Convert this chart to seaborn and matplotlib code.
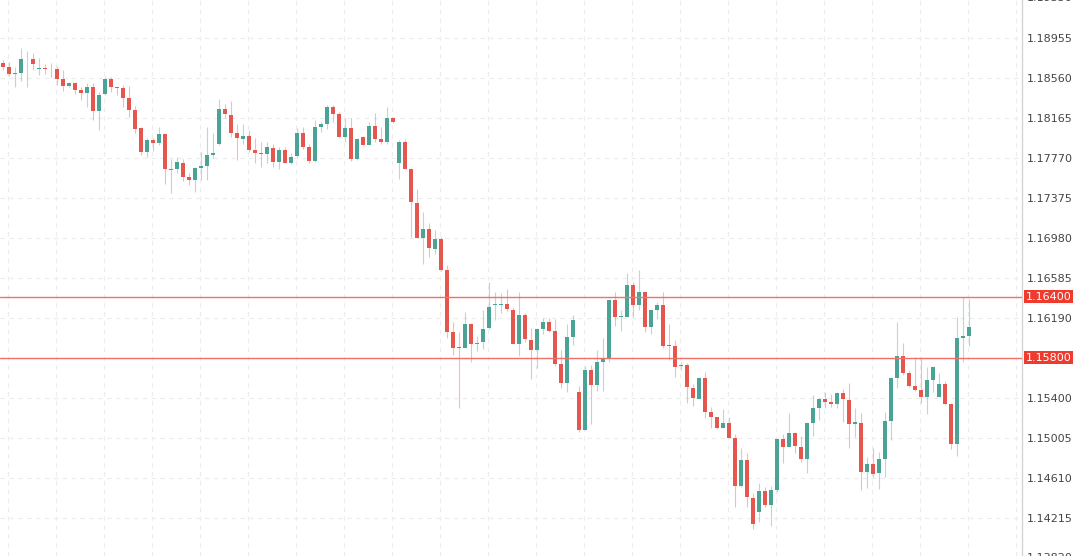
import numpy as np
import pandas as pd
import matplotlib
matplotlib.use("Agg")
import matplotlib.pyplot as plt
import matplotlib.transforms as mtransforms
import seaborn as sns

# OHLC values (one candle per slot, left to right)
opens = [
    1.18704, 1.18667, 1.18601, 1.18614, 1.18744, 1.18747, 1.18644, 1.18654, 1.18650, 1.18644,
    1.18551, 1.18484, 1.18511, 1.18444, 1.18414, 1.18468, 1.18233, 1.18398, 1.18551, 1.18468,
    1.18458, 1.18364, 1.18239, 1.18063, 1.17828, 1.17946, 1.17919, 1.18003, 1.17654, 1.17658,
    1.17724, 1.17584, 1.17551, 1.17668, 1.17694, 1.17804, 1.17906, 1.18258, 1.18196, 1.18013,
    1.17959, 1.17986, 1.17851, 1.17824, 1.17811, 1.17873, 1.17728, 1.17853, 1.17724, 1.17791,
    1.18013, 1.17879, 1.17741, 1.18079, 1.18103, 1.18271, 1.18203, 1.17973, 1.18069, 1.17761,
    1.17973, 1.17903, 1.18086, 1.17953, 1.17923, 1.18169, 1.17718, 1.17923, 1.17661, 1.17329,
    1.16984, 1.17066, 1.16868, 1.16968, 1.16663, 1.16054, 1.15904, 1.15898, 1.16128, 1.15938,
    1.15954, 1.16088, 1.16316, 1.16323, 1.16329, 1.16273, 1.15938, 1.16221, 1.15971, 1.15878,
    1.16078, 1.16148, 1.16061, 1.15736, 1.15549, 1.16001, 1.15464, 1.15086, 1.15676, 1.15533,
    1.15759, 1.15786, 1.16366, 1.16198, 1.16204, 1.16516, 1.16323, 1.16449, 1.16098, 1.16271,
    1.16323, 1.15921, 1.15911, 1.15716, 1.15726, 1.15503, 1.15394, 1.15593, 1.15258, 1.15211,
    1.15108, 1.15158, 1.15009, 1.14531, 1.14786, 1.14414, 1.14273, 1.14481, 1.14341, 1.14491,
    1.14996, 1.14919, 1.15053, 1.14919, 1.14793, 1.15158, 1.15298, 1.15388, 1.15358, 1.15338,
    1.15454, 1.15381, 1.15148, 1.15158, 1.14666, 1.14753, 1.14658, 1.14796, 1.15171, 1.15599,
    1.15816, 1.15649, 1.15519, 1.15483, 1.15408, 1.15576, 1.15414, 1.15536, 1.15338, 1.14943,
    1.15994, 1.16011,
]
highs = [
    1.18737, 1.18714, 1.18664, 1.18854, 1.18827, 1.18804, 1.18754, 1.18694, 1.18704, 1.18680,
    1.18634, 1.18524, 1.18524, 1.18474, 1.18508, 1.18508, 1.18424, 1.18574, 1.18574, 1.18474,
    1.18491, 1.18481, 1.18281, 1.18079, 1.17963, 1.17963, 1.18079, 1.18013, 1.17761, 1.17778,
    1.17761, 1.17618, 1.17684, 1.17834, 1.18079, 1.18013, 1.18348, 1.18308, 1.18334, 1.18103,
    1.18103, 1.18046, 1.17963, 1.17929, 1.17929, 1.17913, 1.17879, 1.17879, 1.17818, 1.18063,
    1.18073, 1.17906, 1.18146, 1.18129, 1.18291, 1.18291, 1.18229, 1.18163, 1.18163, 1.17963,
    1.17986, 1.18129, 1.18219, 1.18079, 1.18271, 1.18179, 1.17946, 1.17956, 1.17668, 1.17468,
    1.17239, 1.17129, 1.17063, 1.16994, 1.16711, 1.16154, 1.16056, 1.16254, 1.16144, 1.16011,
    1.16273, 1.16549, 1.16443, 1.16433, 1.16473, 1.16299, 1.16443, 1.16238, 1.16088, 1.16094,
    1.16194, 1.16194, 1.16178, 1.15871, 1.16128, 1.16221, 1.15516, 1.15716, 1.15726, 1.15878,
    1.15988, 1.16373, 1.16449, 1.16271, 1.16633, 1.16549, 1.16668, 1.16449, 1.16273, 1.16349,
    1.16449, 1.16131, 1.15971, 1.15759, 1.15741, 1.15536, 1.15609, 1.15659, 1.15314, 1.15211,
    1.15291, 1.15211, 1.15043, 1.14903, 1.14853, 1.14458, 1.14558, 1.14521, 1.14534, 1.15009,
    1.15041, 1.15248, 1.15063, 1.15026, 1.15164, 1.15431, 1.15398, 1.15464, 1.15441, 1.15464,
    1.15493, 1.15549, 1.15298, 1.15248, 1.14816, 1.14903, 1.14869, 1.15264, 1.15603, 1.16154,
    1.15944, 1.15676, 1.15803, 1.15803, 1.15703, 1.15716, 1.15643, 1.15569, 1.15348, 1.16204,
    1.16399, 1.16373,
]
lows = [
    1.18641, 1.18581, 1.18474, 1.18534, 1.18474, 1.18634, 1.18591, 1.18601, 1.18574, 1.18491,
    1.18434, 1.18474, 1.18398, 1.18341, 1.18271, 1.18146, 1.18046, 1.18391, 1.18424, 1.18391,
    1.18271, 1.18179, 1.18013, 1.17801, 1.17781, 1.17841, 1.17896, 1.17518, 1.17423, 1.17618,
    1.17544, 1.17501, 1.17439, 1.17551, 1.17551, 1.17774, 1.17896, 1.18163, 1.17979, 1.17751,
    1.17913, 1.17834, 1.17718, 1.17684, 1.17718, 1.17684, 1.17661, 1.17718, 1.17711, 1.17778,
    1.17859, 1.17718, 1.17734, 1.18029, 1.18056, 1.18129, 1.17973, 1.17929, 1.17744, 1.17751,
    1.17896, 1.17896, 1.17929, 1.17913, 1.17913, 1.18113, 1.17558, 1.17661, 1.16994, 1.16978,
    1.16721, 1.16791, 1.16821, 1.16656, 1.15991, 1.15821, 1.15304, 1.15898, 1.15751, 1.15869,
    1.15888, 1.16081, 1.16171, 1.16238, 1.16261, 1.15938, 1.15819, 1.15954, 1.15586, 1.15699,
    1.16031, 1.16054, 1.15716, 1.15499, 1.15464, 1.15928, 1.15069, 1.15086, 1.15148, 1.15471,
    1.15471, 1.15759, 1.16114, 1.16064, 1.16204, 1.16204, 1.16273, 1.16048, 1.16031, 1.16181,
    1.15898, 1.15776, 1.15609, 1.15676, 1.15346, 1.15321, 1.15391, 1.15198, 1.15108, 1.15091,
    1.15108, 1.15003, 1.14324, 1.14524, 1.14324, 1.14106, 1.14179, 1.14324, 1.14139, 1.14474,
    1.14761, 1.14913, 1.14853, 1.14769, 1.14658, 1.15029, 1.15181, 1.15298, 1.15308, 1.15298,
    1.15164, 1.14903, 1.15019, 1.14491, 1.14508, 1.14624, 1.14498, 1.14624, 1.14986, 1.15499,
    1.15626, 1.15509, 1.15474, 1.15354, 1.15241, 1.15464, 1.15408, 1.15331, 1.14893, 1.14829,
    1.15759, 1.15911,
]
closes = [
    1.18670, 1.18604, 1.18614, 1.18744, 1.18750, 1.18694, 1.18654, 1.18647, 1.18644, 1.18551,
    1.18484, 1.18511, 1.18441, 1.18414, 1.18468, 1.18233, 1.18391, 1.18551, 1.18468, 1.18458,
    1.18364, 1.18243, 1.18056, 1.17834, 1.17946, 1.17919, 1.18003, 1.17658, 1.17661, 1.17734,
    1.17584, 1.17551, 1.17668, 1.17691, 1.17801, 1.17821, 1.18258, 1.18203, 1.18013, 1.17963,
    1.17989, 1.17853, 1.17824, 1.17811, 1.17879, 1.17728, 1.17853, 1.17724, 1.17784, 1.18013,
    1.17879, 1.17741, 1.18073, 1.18103, 1.18271, 1.18203, 1.17973, 1.18069, 1.17761, 1.17953,
    1.17896, 1.18089, 1.17953, 1.17923, 1.18169, 1.18129, 1.17929, 1.17661, 1.17333, 1.16984,
    1.17066, 1.16878, 1.16968, 1.16666, 1.16054, 1.15898, 1.15898, 1.16128, 1.15938, 1.15948,
    1.16081, 1.16303, 1.16329, 1.16329, 1.16276, 1.15938, 1.16221, 1.15978, 1.15878, 1.16078,
    1.16148, 1.16061, 1.15736, 1.15549, 1.16001, 1.16171, 1.15086, 1.15676, 1.15533, 1.15759,
    1.15786, 1.16366, 1.16204, 1.16204, 1.16516, 1.16323, 1.16449, 1.16098, 1.16271, 1.16323,
    1.15914, 1.15911, 1.15709, 1.15726, 1.15506, 1.15396, 1.15593, 1.15264, 1.15211, 1.15108,
    1.15158, 1.15009, 1.14531, 1.14786, 1.14418, 1.14153, 1.14481, 1.14341, 1.14491, 1.14996,
    1.14919, 1.15053, 1.14926, 1.14793, 1.15158, 1.15298, 1.15388, 1.15364, 1.15338, 1.15454,
    1.15388, 1.15148, 1.15164, 1.14666, 1.14753, 1.14651, 1.14796, 1.15171, 1.15593, 1.15816,
    1.15649, 1.15519, 1.15483, 1.15408, 1.15576, 1.15709, 1.15536, 1.15341, 1.14943, 1.15994,
    1.16011, 1.16098,
]

price_ticks = [1.18955, 1.18560, 1.18165, 1.17770, 1.17375, 1.16980, 1.16585,
               1.16190, 1.15400, 1.15005, 1.14610, 1.14215]
hidden_grid = [1.15795]
edge_labels = [1.19350, 1.13820]
levels = [1.16400, 1.15800]

UP = "#4ba396"
DOWN = "#e5564e"
LEVEL_LINE = "#f0716a"
LEVEL_BOX = "#ef3b2e"

df = pd.DataFrame({"open": opens, "high": highs, "low": lows, "close": closes})
df["x"] = np.arange(len(df))
df["up"] = df["close"] >= df["open"]
df["bottom"] = df[["open", "close"]].min(axis=1)
df["height"] = (df["close"] - df["open"]).abs().clip(lower=0.00008)

sns.set_style("white")
plt.rcParams["font.family"] = ["DejaVu Sans"]

fig = plt.figure(figsize=(10.8, 5.56), dpi=100)
ax = fig.add_axes([0, 0, 1022 / 1080, 1])

ax.set_xlim(-0.5, 1022 / 6 - 0.5)
ax.set_ylim(1.13840, 1.19330)

# grid
for y in price_ticks + hidden_grid:
    ax.axhline(y, color="#ececec", lw=0.8, ls=(0, (4, 4)), zorder=0)
for gx in np.arange(0.8, 170, 8):
    ax.axvline(gx, color="#ececec", lw=0.8, ls=(0, (4, 4)), zorder=0)

colors = np.where(df["up"], UP, DOWN)
ax.vlines(df["x"], df["low"], df["high"], colors=colors, lw=0.8, alpha=0.4, zorder=2)
ax.bar(df["x"], df["height"], bottom=df["bottom"], width=0.68,
       color=colors, linewidth=0, zorder=3)

# support / resistance levels
trans = mtransforms.blended_transform_factory(ax.transAxes, ax.transData)
for lv in levels:
    ax.axhline(lv, color=LEVEL_LINE, lw=1.0, zorder=4)
    ax.text(1.0035, lv, f"{lv:.5f}", transform=trans, ha="left", va="center",
            color="white", fontsize=8,
            bbox=dict(boxstyle="square,pad=0.14", fc=LEVEL_BOX, ec="none"),
            clip_on=False, zorder=5)

ax.yaxis.tick_right()
ax.set_yticks(price_ticks)
ax.set_yticklabels([f"{t:.5f}" for t in price_ticks])
ax.tick_params(axis="y", length=0, pad=3.8, labelsize=8, labelcolor="#444444")
ax.tick_params(axis="x", length=0, labelbottom=False)
for t in edge_labels:
    ax.text(1.0045, t, f"{t:.5f}", transform=trans, ha="left", va="center",
            color="#444444", fontsize=8, clip_on=False)

for side in ["left", "top", "bottom"]:
    ax.spines[side].set_visible(False)
ax.spines["right"].set_color("#d4d4d4")
ax.spines["right"].set_linewidth(1.0)

fig.savefig("out.png", dpi=100)
